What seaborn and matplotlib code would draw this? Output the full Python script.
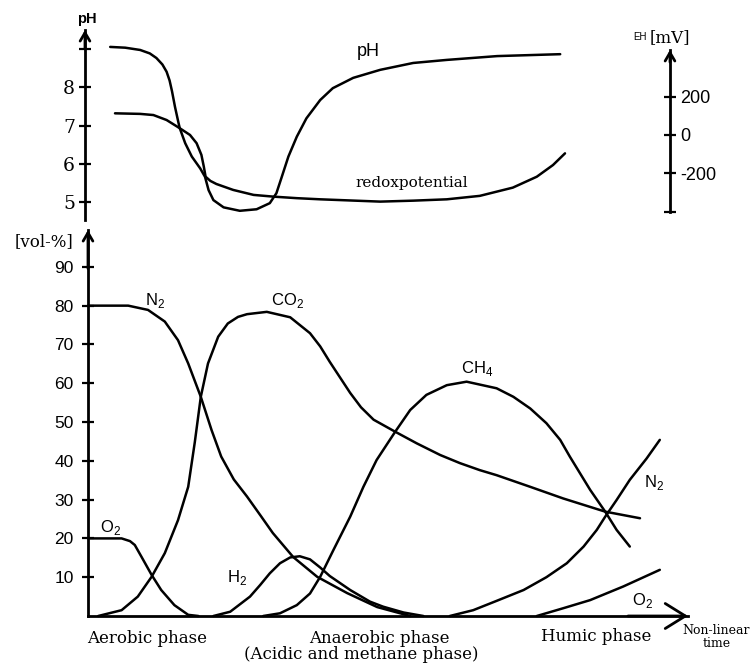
import matplotlib.pyplot as plt
import seaborn as sns

sns.set_theme(style="white")
plt.rcParams["font.family"] = ["Liberation Sans", "DejaVu Sans"]
plt.rcParams["mathtext.fontset"] = "custom"
plt.rcParams["mathtext.rm"] = "Liberation Sans"
plt.rcParams["text.color"] = "black"
plt.rcParams["ytick.labelcolor"] = "black"

# --- top panel: pH and redox potential (time in arbitrary non-linear units 0..100)
ph_time = [3.7, 6.2, 8.7, 10.3, 11.4, 12.4, 13.1, 13.6, 14.0, 14.5, 15.1, 15.3, 16.2,
           17.3, 18.7, 19.5, 20.1, 20.9, 22.6, 25.3, 28.1, 30.3, 31.4, 32.3, 33.4,
           34.8, 36.4, 38.7, 40.8, 44.2, 48.7, 54.2, 59.8, 68.2, 78.7]
ph_value = [9.06, 9.04, 8.98, 8.89, 8.77, 8.6, 8.41, 8.18, 7.9, 7.49, 7.06, 6.93, 6.54,
            6.19, 5.88, 5.66, 5.31, 5.05, 4.86, 4.77, 4.81, 4.97, 5.23, 5.66, 6.19,
            6.71, 7.19, 7.67, 7.98, 8.25, 8.46, 8.64, 8.72, 8.82, 8.87]

redox_time = [4.5, 8.7, 10.9, 13.1, 15.3, 17.0, 18.1, 18.9, 19.3, 19.6, 20.4, 21.4,
              24.2, 27.6, 30.9, 34.8, 38.7, 48.7, 54.2, 59.8, 65.3, 70.8, 74.8, 77.5, 79.5]
redox_mv = [113, 110, 104, 78, 35, 0, -43, -104, -165, -218, -240, -256,
            -287, -313, -322, -330, -336, -348, -343, -336, -318, -275, -218, -157, -96]

ph_ticks = [5, 6, 7, 8, 9]
ph_tick_labels = ["5", "6", "7", "8", ""]
mv_ticks = [-402, -200, 0, 200]
mv_tick_labels = ["", "-200", "0", "200"]

# --- bottom panel: gas composition [vol-%]
o2_time = [0, 3.7, 5.6, 7.0, 7.8, 8.9, 10.6, 12.2, 14.4, 16.7, 18.4]
o2_vol = [20, 20, 20, 19.3, 18.3, 15.3, 10.6, 6.7, 2.8, 0.3, 0]

n2_time = [0, 3, 6.7, 10, 12.8, 15, 16.7, 18.8, 20.6, 22.2, 24.3, 26.5, 28.8,
           30.8, 34.2, 38.2, 43.2, 48.2, 53.7]
n2_vol = [80, 80, 80, 78.9, 75.9, 71.1, 65.1, 56.5, 47.9, 41.1, 35.2, 30.8, 25.8,
          21.4, 15.2, 10.1, 5.9, 2.3, 0]

co2_time = [1.7, 5.6, 8.3, 10.6, 12.8, 15.0, 16.7, 17.8, 18.8, 20.0, 21.7, 23.3, 25.0,
            26.5, 29.8, 33.7, 37.0, 38.7, 40.3, 42.0, 43.7, 45.5, 47.6, 51.2, 54.8,
            58.7, 62.0, 65.3, 68.1, 73.7, 79.2, 86.2, 92]
co2_vol = [0, 1.5, 5.0, 10.1, 16.2, 24.7, 33.3, 44.8, 56.5, 65.1, 72.0, 75.4, 77.1,
           77.8, 78.4, 77.0, 72.9, 69.5, 65.5, 61.5, 57.5, 53.8, 50.6, 47.5, 44.5,
           41.5, 39.4, 37.6, 36.3, 33.3, 30.3, 26.9, 25.2]

h2_time = [20.9, 23.7, 27.0, 28.7, 30.3, 32.0, 33.7, 35.3, 37.0, 38.7, 40.3, 43.7,
           47.0, 49.2, 52.6, 55.9]
h2_vol = [0, 1.1, 5.0, 8.0, 11.0, 13.6, 15.1, 15.4, 14.6, 12.5, 10.3, 6.7,
          3.7, 2.4, 0.9, 0]

ch4_time = [29.2, 32.0, 34.8, 37.0, 38.7, 40.9, 43.7, 45.9, 48.1, 51.2, 53.7, 56.4,
            59.8, 63.1, 68.1, 70.9, 73.7, 76.4, 78.7, 80.3, 82.0, 83.7, 86.2, 88.1, 90.3]
ch4_vol = [0, 0.7, 2.8, 5.8, 10.1, 17.0, 25.6, 33.3, 40.2, 47.5, 53.1, 57.0,
           59.5, 60.4, 58.7, 56.5, 53.5, 49.7, 45.4, 41.1, 36.8, 32.5, 26.9, 22.2, 17.9]

n2_late_time = [60.3, 64.2, 68.1, 72.6, 76.4, 79.8, 82.6, 84.8, 86.2, 88.1, 90.3, 93.1, 95.3]
n2_late_vol = [0, 1.5, 3.9, 6.7, 10.0, 13.6, 17.9, 22.2, 25.6, 29.9, 35.1, 40.6, 45.4]

o2_late_time = [74.8, 79.2, 83.7, 89.2, 95.3]
o2_late_vol = [0, 2.0, 4.1, 7.6, 11.9]

vol_ticks = [10, 20, 30, 40, 50, 60, 70, 80, 90]

W, H = 756, 666
fig = plt.figure(figsize=(W / 100, H / 100), dpi=100)


def px_axes(left, top, right, bottom):
    return fig.add_axes([left / W, 1 - bottom / H, (right - left) / W, (bottom - top) / H])


def arrow_head(ax, xy, xytext, length, width, coords="axes fraction"):
    ax.annotate("", xy=xy, xycoords=coords, xytext=xytext, textcoords=coords,
                arrowprops=dict(arrowstyle=f"->,head_length={length},head_width={width}",
                                lw=2.0, color="black", shrinkA=0, shrinkB=0,
                                mutation_scale=10),
                annotation_clip=False)


serif = "DejaVu Serif"
line_kw = dict(color="black", linewidth=1.8, clip_on=False, estimator=None,
               solid_joinstyle="round", solid_capstyle="round")

# ---------------- top panel
ax_ph = px_axes(85, 30, 670, 220)
ax_rx = ax_ph.twinx()
ax_ph.set_xlim(-0.5, 97)
ax_ph.set_ylim(4.529, 9.503)
ax_rx.set_ylim(-444, 548)

sns.lineplot(x=ph_time, y=ph_value, ax=ax_ph, **line_kw)
sns.lineplot(x=redox_time, y=redox_mv, ax=ax_rx, **line_kw)

for a in (ax_ph, ax_rx):
    a.set_facecolor("none")
    a.grid(False)
    for s in a.spines.values():
        s.set_visible(False)
    a.set_xticks([])
ax_ph.spines["left"].set_visible(True)
ax_ph.spines["left"].set_linewidth(2.0)
ax_ph.spines["left"].set_color("black")
ax_rx.spines["right"].set_visible(True)
ax_rx.spines["right"].set_linewidth(2.0)
ax_rx.spines["right"].set_color("black")
ax_rx.spines["right"].set_bounds(-402, 444)

ax_ph.set_yticks(ph_ticks, ph_tick_labels)
ax_ph.tick_params(axis="y", direction="inout", length=8.5, width=1.6, color="black",
                  labelsize=13.5, pad=3, left=True, labelcolor="black")
for lab in ax_ph.get_yticklabels():
    lab.set_fontfamily(serif)
ax_rx.set_yticks(mv_ticks, mv_tick_labels)
ax_rx.tick_params(axis="y", direction="inout", length=8.5, width=1.6, color="black",
                  labelsize=13, pad=3, right=True, labelcolor="black")
ax_ph.set_ylabel("")
ax_rx.set_ylabel("")

arrow_head(ax_ph, (0, 1), (0, 0.9), 0.6, 0.35)
arrow_head(ax_rx, (1, 444), (1, 380), 0.6, 0.35, coords=("axes fraction", "data"))

ax_ph.text(46.7, 8.95, "pH", fontsize=13, ha="center", va="center")
ax_ph.text(54, 5.5, "redoxpotential", fontsize=11, family=serif, ha="center", va="center")
fig.text(87 / W, 1 - 19 / H, "pH", fontsize=10.5, fontweight="bold", ha="center", va="center")
fig.text(640 / W, 1 - 37 / H, "EH", fontsize=7, ha="center", va="center")
fig.text(670 / W, 1 - 38 / H, "[mV]", fontsize=12, family=serif, ha="center", va="center")

# ---------------- bottom panel
ax = px_axes(88, 230, 688, 616)
ax.set_xlim(0, 100)
ax.set_ylim(0, 99.5)
ax.set_facecolor("none")
ax.grid(False)

for t, v in [(o2_time, o2_vol), (n2_time, n2_vol), (co2_time, co2_vol),
             (h2_time, h2_vol), (ch4_time, ch4_vol), (n2_late_time, n2_late_vol),
             (o2_late_time, o2_late_vol)]:
    sns.lineplot(x=t, y=v, ax=ax, **line_kw)

ax.spines["top"].set_visible(False)
ax.spines["right"].set_visible(False)
for side in ("left", "bottom"):
    ax.spines[side].set_linewidth(2.0)
    ax.spines[side].set_color("black")
ax.set_xticks([])
ax.set_yticks(vol_ticks)
ax.tick_params(axis="y", direction="inout", length=8.5, width=1.6, color="black",
               labelsize=12.5, pad=6, left=True, labelcolor="black")
ax.set_ylabel("")

arrow_head(ax, (0, 1), (0, 0.9), 0.6, 0.35)
arrow_head(ax, (1, 0), (0.9, 0), 1.45, 0.9)

gas_labels = [("N$_\\mathrm{2}$", 11.2, 81.2), ("CO$_\\mathrm{2}$", 33.2, 81.2),
              ("O$_\\mathrm{2}$", 3.7, 22.9), ("H$_\\mathrm{2}$", 24.8, 9.8),
              ("CH$_\\mathrm{4}$", 64.8, 63.9), ("N$_\\mathrm{2}$", 94.3, 34.3),
              ("O$_\\mathrm{2}$", 92.5, 4.1)]
for s, t, v in gas_labels:
    ax.text(t, v, s, fontsize=12, ha="center", va="center")

ax.text(9.9, -5.7, "Aerobic phase", fontsize=12, family=serif, ha="center", va="center")
ax.text(48.5, -5.7, "Anaerobic phase", fontsize=12, family=serif, ha="center", va="center")
ax.text(45.5, -10.0, "(Acidic and methane phase)", fontsize=12, family=serif,
        ha="center", va="center")
ax.text(84.7, -5.4, "Humic phase", fontsize=12, family=serif, ha="center", va="center")
ax.text(104.7, -5.4, "Non-linear\ntime", fontsize=9, family=serif, ha="center",
        va="center", linespacing=0.95)
fig.text(44 / W, 1 - 242 / H, "[vol-%]", fontsize=12, family=serif, ha="center", va="center")

fig.savefig("out.png", dpi=100)
